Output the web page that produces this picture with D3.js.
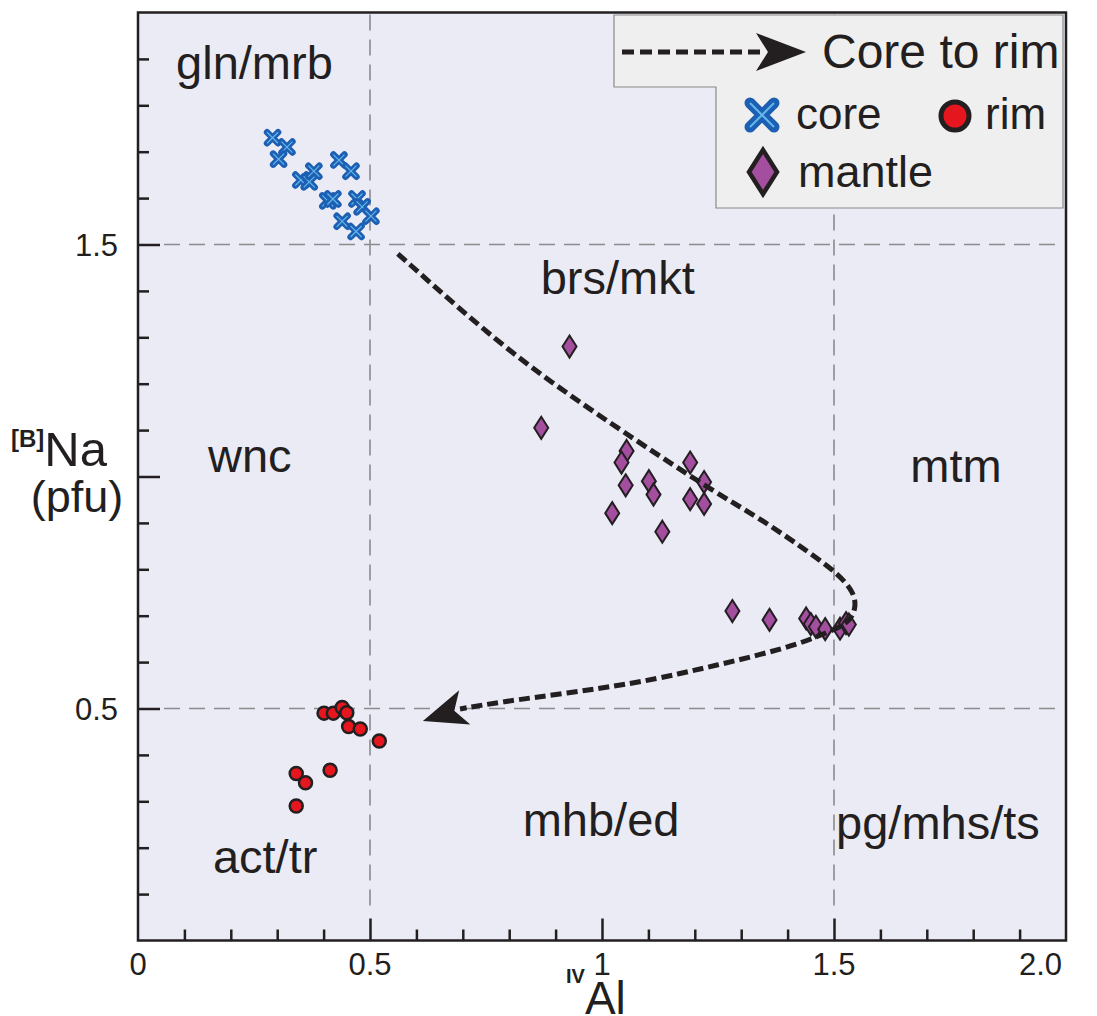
<!DOCTYPE html>
<html>
<head>
<meta charset="utf-8">
<script src="https://cdn.jsdelivr.net/npm/d3@7"></script>
<style>
  html, body { margin: 0; padding: 0; background: #ffffff; }
  svg { display: block; font-family: "Liberation Sans", Arial, Helvetica, sans-serif; }
</style>
</head>
<body>
<svg id="chart" width="1097" height="1016"></svg>
<script>
// Amphibole classification: B-site Na vs tetrahedral Al (pfu)
const coreAl = [0.290, 0.321, 0.303, 0.351, 0.369, 0.379, 0.433, 0.459, 0.409, 0.420, 0.472, 0.483, 0.502, 0.440, 0.470];
const coreNa = [1.730, 1.710, 1.684, 1.639, 1.635, 1.658, 1.682, 1.658, 1.594, 1.598, 1.598, 1.581, 1.561, 1.550, 1.528];

const mantleAl = [0.930, 0.869, 1.053, 1.042, 1.051, 1.101, 1.111, 1.022, 1.130, 1.190, 1.220, 1.190, 1.220,
                  1.281, 1.361, 1.440, 1.450, 1.461, 1.481, 1.513, 1.526, 1.532];
const mantleNa = [1.280, 1.105, 1.055, 1.030, 0.981, 0.990, 0.961, 0.921, 0.881, 1.030, 0.988, 0.951, 0.941,
                  0.710, 0.691, 0.694, 0.682, 0.676, 0.671, 0.672, 0.684, 0.681];

const rimAl = [0.401, 0.421, 0.440, 0.450, 0.454, 0.479, 0.520, 0.414, 0.341, 0.361, 0.341];
const rimNa = [0.490, 0.490, 0.502, 0.491, 0.461, 0.456, 0.430, 0.367, 0.360, 0.340, 0.290];

// Core-to-rim evolution trend (ends in an arrow)
const trendAl = [0.560, 0.737, 0.881, 1.082, 1.226, 1.356, 1.448, 1.507, 1.545, 1.547, 1.530, 1.491, 1.427, 1.341, 1.254, 1.168, 1.067, 0.925, 0.780, 0.694];
const trendNa = [1.480, 1.322, 1.208, 1.072, 0.977, 0.900, 0.835, 0.792, 0.749, 0.712, 0.684, 0.666, 0.640, 0.616, 0.595, 0.575, 0.554, 0.533, 0.514, 0.499];
const trendTip = [0.614, 0.473];

// Field boundaries and field names
const boundariesAl = [0.5, 1.5];
const boundariesNa = [0.5, 1.5];
const fieldNames = ["gln/mrb", "brs/mkt", "wnc", "mtm", "mhb/ed", "pg/mhs/ts", "act/tr"];
const fieldAl =    [0.251, 1.034, 0.241, 1.763, 0.998, 1.724, 0.274];
const fieldNa =    [1.893, 1.428, 1.046, 1.023, 0.260, 0.255, 0.180];

// Axis ticks
const xMinor = d3.range(1, 20).map(i => i / 10).filter(v => Math.abs(v * 2 - Math.round(v * 2)) > 1e-6);
const xMajor = [0.5, 1.0, 1.5];
const xTickValues = [0, 0.5, 1, 1.5, 2];
const xTickLabels = ["0", "0.5", "1", "1.5", "2.0"];
const yMinor = d3.range(1, 20).map(i => i / 10).filter(v => Math.abs(v * 2 - Math.round(v * 2)) > 1e-6);
const yMajor = [0.5, 1.0, 1.5];
const yTickValues = [0.5, 1.5];
const yTickLabels = ["0.5", "1.5"];

const ink = "#231f20";
const svg = d3.select("#chart");

const x = d3.scaleLinear().domain([0, 2]).range([138, 1066]);
const y = d3.scaleLinear().domain([0, 2]).range([940.5, 12.5]);
const [x0, x1] = x.range();
const [yB, yT] = y.range();

// plot background
svg.append("rect")
  .attr("x", x0).attr("y", yT).attr("width", x1 - x0).attr("height", yB - yT)
  .attr("fill", "#ebebf5");

// dashed field boundaries
const grid = svg.append("g").attr("stroke", "#8c8a8e").attr("stroke-width", 1.6).attr("stroke-dasharray", "16,9");
grid.selectAll("line.v").data(boundariesAl).join("line")
  .attr("x1", d => x(d)).attr("x2", d => x(d)).attr("y1", yT + 2).attr("y2", yB - 26);
grid.selectAll("line.h").data(boundariesNa).join("line")
  .attr("y1", d => y(d)).attr("y2", d => y(d)).attr("x1", x0 + 26).attr("x2", x1 - 2);

// field labels
svg.append("g").selectAll("text").data(fieldNames).join("text")
  .attr("x", (d, i) => x(fieldAl[i])).attr("y", (d, i) => y(fieldNa[i]))
  .attr("text-anchor", "middle").attr("dy", "0.35em")
  .attr("font-size", 47).attr("fill", ink)
  .text(d => d);

// axes (ticks point inward)
function styleAxis(g) {
  g.select(".domain").remove();
  g.selectAll(".tick line").attr("stroke", ink).attr("stroke-width", 2.5);
  g.selectAll(".tick text").remove();
}
svg.append("g").attr("transform", `translate(0,${yB})`)
  .call(d3.axisBottom(x).tickValues(xMinor).tickSize(-11)).call(styleAxis);
svg.append("g").attr("transform", `translate(0,${yB})`)
  .call(d3.axisBottom(x).tickValues(xMajor).tickSize(-22)).call(styleAxis);
svg.append("g").attr("transform", `translate(${x0},0)`)
  .call(d3.axisLeft(y).tickValues(yMinor).tickSize(-11)).call(styleAxis);
svg.append("g").attr("transform", `translate(${x0},0)`)
  .call(d3.axisLeft(y).tickValues(yMajor).tickSize(-22)).call(styleAxis);

// tick labels
svg.append("g").selectAll("text").data(xTickValues).join("text")
  .attr("x", d => x(d)).attr("y", 975)
  .attr("text-anchor", (d, i) => i === xTickValues.length - 1 ? "end" : "middle")
  .attr("dx", (d, i) => i === xTickValues.length - 1 ? -4 : 0)
  .attr("font-size", 31).attr("fill", ink)
  .text((d, i) => xTickLabels[i]);
svg.append("g").selectAll("text").data(yTickValues).join("text")
  .attr("x", 118).attr("y", d => y(d)).attr("dy", "0.36em")
  .attr("text-anchor", "end")
  .attr("font-size", 31).attr("fill", ink)
  .text((d, i) => yTickLabels[i]);

// frame
svg.append("rect")
  .attr("x", x0).attr("y", yT).attr("width", x1 - x0).attr("height", yB - yT)
  .attr("fill", "none").attr("stroke", ink).attr("stroke-width", 2.5);

// axis titles
const xt = svg.append("text").attr("x", 566).attr("y", 1014).attr("fill", ink);
xt.append("tspan").attr("font-size", 20).attr("font-weight", "bold").attr("dy", -31).text("IV");
xt.append("tspan").attr("font-size", 46).attr("dy", 31).text("Al");

const yt = svg.append("text").attr("x", 11).attr("y", 466).attr("fill", ink);
yt.append("tspan").attr("font-size", 24).attr("font-weight", "bold").attr("dy", -19).text("[B]");
yt.append("tspan").attr("font-size", 49).attr("dy", 19).text("Na");
svg.append("text").attr("x", 77).attr("y", 512).attr("text-anchor", "middle")
  .attr("font-size", 45).attr("fill", ink).text("(pfu)");

// marker shapes
function coreMark(g, s, w) {
  const p = `M${-s},${-s}L${s},${s}M${-s},${s}L${s},${-s}`;
  g.append("path").attr("d", p).attr("stroke", "#1d5fb3").attr("stroke-width", w).attr("stroke-linecap", "round").attr("fill", "none");
  g.append("path").attr("d", p).attr("stroke", "#62b8ea").attr("stroke-width", w * 0.18).attr("fill", "none");
}
function diamondPath(w, h) { return `M0,${-h}L${w},0L0,${h}L${-w},0Z`; }

// trend curve with arrowhead
const trendPts = trendAl.map((a, i) => [x(a), y(trendNa[i])]);
const line = d3.line().curve(d3.curveBasis);
function arrowHead(tip, from, len, half, notch) {
  const dx = tip[0] - from[0], dy = tip[1] - from[1];
  const L = Math.hypot(dx, dy), ux = dx / L, uy = dy / L, nx = -uy, ny = ux;
  const P = (a, b) => [tip[0] - ux * a + nx * b, tip[1] - uy * a + ny * b];
  return "M" + [tip, P(len, half), P(notch, 0), P(len, -half)].map(p => p.join(",")).join("L") + "Z";
}

// data points
const mantleG = svg.append("g");
mantleAl.forEach((a, i) => {
  mantleG.append("path").attr("d", diamondPath(7, 11))
    .attr("transform", `translate(${x(a)},${y(mantleNa[i])})`)
    .attr("fill", "#a34e9f").attr("stroke", ink).attr("stroke-width", 2);
});

svg.append("path").attr("d", line(trendPts))
  .attr("fill", "none").attr("stroke", ink).attr("stroke-width", 5).attr("stroke-dasharray", "11,5");
svg.append("path")
  .attr("d", arrowHead([x(trendTip[0]), y(trendTip[1])], trendPts[trendPts.length - 1], 44, 18, 33))
  .attr("fill", ink);

const rimG = svg.append("g");
rimAl.forEach((a, i) => {
  rimG.append("circle").attr("cx", x(a)).attr("cy", y(rimNa[i])).attr("r", 6.5)
    .attr("fill", "#e5161d").attr("stroke", ink).attr("stroke-width", 2.5);
});

coreAl.forEach((a, i) => {
  const g = svg.append("g").attr("transform", `translate(${x(a)},${y(coreNa[i])})`);
  coreMark(g, 5.5, 6.5);
});

// legend
const lg = svg.append("g");
lg.append("path")
  .attr("d", "M614,15L1063,15L1063,208L716,208L716,87L614,87Z")
  .attr("fill", "#efefef").attr("stroke", "#8a8a8a").attr("stroke-width", 1.2);
lg.append("line").attr("x1", 622).attr("x2", 765).attr("y1", 52).attr("y2", 52)
  .attr("stroke", ink).attr("stroke-width", 5).attr("stroke-dasharray", "12,6");
lg.append("path").attr("d", arrowHead([806, 52], [700, 52], 50, 19, 38)).attr("fill", ink);
lg.append("text").attr("x", 822).attr("y", 68).attr("font-size", 48).attr("fill", ink).text("Core to rim");

const lc = lg.append("g").attr("transform", "translate(762,115)");
coreMark(lc, 12, 11);
lg.append("text").attr("x", 796).attr("y", 129).attr("font-size", 44).attr("fill", ink).text("core");
lg.append("circle").attr("cx", 955).attr("cy", 116).attr("r", 14)
  .attr("fill", "#e5161d").attr("stroke", ink).attr("stroke-width", 5);
lg.append("text").attr("x", 985).attr("y", 129).attr("font-size", 44).attr("fill", ink).text("rim");
lg.append("path").attr("d", diamondPath(14, 22)).attr("transform", "translate(763,172)")
  .attr("fill", "#a34e9f").attr("stroke", ink).attr("stroke-width", 4.5);
lg.append("text").attr("x", 798).attr("y", 187).attr("font-size", 45).attr("fill", ink).text("mantle");
</script>
</body>
</html>
